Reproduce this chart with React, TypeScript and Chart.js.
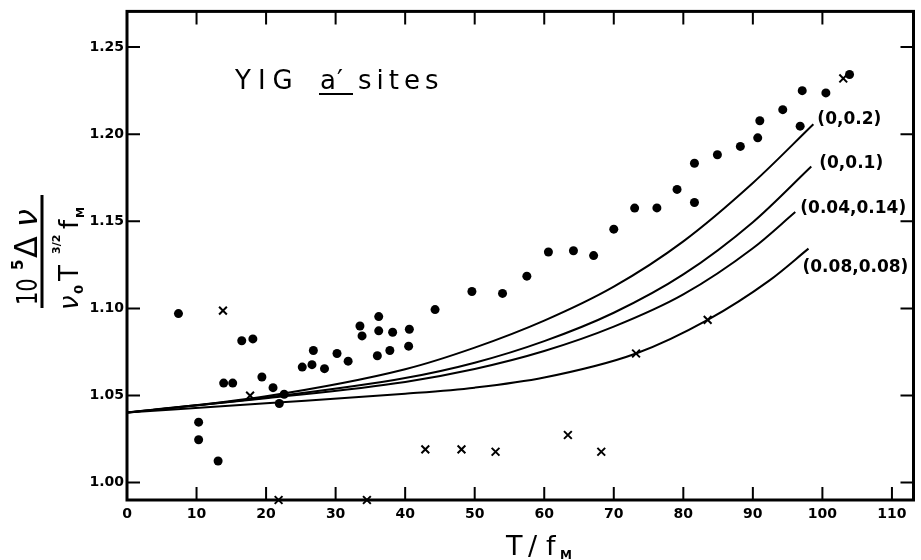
import React, { useEffect, useRef } from "react";
import { Chart, registerables } from "chart.js";

Chart.register(...registerables);

// ---- tick labels ----
const xTicks = [0, 10, 20, 30, 40, 50, 60, 70, 80, 90, 100, 110];
const yTicks = [1.0, 1.05, 1.1, 1.15, 1.2, 1.25];

// ---- measured points (filled circles) ----
const dotT = [7.4, 10.3, 10.3, 13.1, 13.9, 15.2, 16.5, 18.1, 19.4, 21.0, 21.9, 22.6, 25.2, 26.6, 26.8, 28.4, 30.2, 31.8, 33.5, 33.8, 36.0, 36.2, 36.2, 37.8, 38.2, 40.5, 40.6, 44.3, 49.6, 54.0, 57.5, 60.6, 64.2, 67.1, 70.0, 73.0, 76.2, 79.1, 81.6, 81.6, 84.9, 88.2, 90.7, 91.0, 94.3, 96.8, 97.1, 100.5, 103.9];
const dotV = [1.097, 1.0347, 1.0246, 1.0124, 1.0571, 1.0571, 1.0814, 1.0825, 1.0606, 1.0545, 1.0454, 1.0507, 1.0663, 1.0677, 1.0758, 1.0654, 1.0741, 1.0697, 1.0899, 1.0842, 1.0728, 1.0871, 1.0953, 1.0758, 1.0863, 1.0783, 1.088, 1.0993, 1.1097, 1.1086, 1.1185, 1.1324, 1.1331, 1.1303, 1.1455, 1.1576, 1.1577, 1.1683, 1.1608, 1.1833, 1.1882, 1.193, 1.1979, 1.2077, 1.2141, 1.2046, 1.225, 1.2237, 1.2343];

// ---- measured points (crosses) ----
const crossT = [13.8, 17.7, 21.8, 34.5, 42.9, 48.1, 53.0, 63.4, 68.2, 73.2, 83.5, 103.0];
const crossV = [1.0987, 1.0499, 0.99, 0.99, 1.0191, 1.0191, 1.0177, 1.0273, 1.0177, 1.0741, 1.0934, 1.232];

// ---- theoretical curves ----
const curveLabels = ["(0,0.2)", "(0,0.1)", "(0.04,0.14)", "(0.08,0.08)"];
const curveAT = [0, 20, 40, 50, 60, 70, 80, 90, 98.7];
const curveAV = [1.0402, 1.0496, 1.0651, 1.0775, 1.093, 1.1125, 1.1385, 1.172, 1.2057];
const curveBT = [0, 20, 40, 50, 60, 70, 80, 90, 98.4];
const curveBV = [1.0402, 1.0488, 1.06, 1.0688, 1.0812, 1.0975, 1.1195, 1.1495, 1.1815];
const curveCT = [0, 20, 40, 50, 60, 70, 80, 90, 96.1];
const curveCV = [1.0402, 1.0484, 1.0578, 1.0652, 1.0755, 1.0895, 1.108, 1.1345, 1.1553];
const curveDT = [0, 20, 40, 50, 60, 73.2, 83.5, 92.3, 98.0];
const curveDV = [1.0402, 1.0455, 1.051, 1.0545, 1.0603, 1.0741, 1.0934, 1.1158, 1.1343];

const curvesT = [curveAT, curveBT, curveCT, curveDT];
const curvesV = [curveAV, curveBV, curveCV, curveDV];

const X_MIN = 0;
const X_MAX = 113.1;
const Y_MIN = 0.99;
const Y_MAX = 1.2705;

const zip = (xs: number[], ys: number[]) => xs.map((x, i) => ({ x, y: ys[i] }));

const framePlugin = {
  id: "frame",
  beforeDatasetsDraw(chart: any) {
    const { ctx, chartArea: a, scales } = chart;
    const xs = scales.x;
    const ys = scales.y;
    ctx.save();
    ctx.strokeStyle = "#000";
    ctx.lineWidth = 3;
    ctx.strokeRect(a.left, a.top, a.right - a.left, a.bottom - a.top);
    ctx.lineWidth = 2;
    const tl = 13;
    ctx.beginPath();
    xTicks.forEach((v) => {
      if (v === 0) return;
      const px = xs.getPixelForValue(v);
      ctx.moveTo(px, a.bottom);
      ctx.lineTo(px, a.bottom - tl);
      if (v <= 100) {
        ctx.moveTo(px, a.top);
        ctx.lineTo(px, a.top + tl);
      }
    });
    yTicks.forEach((v) => {
      const py = ys.getPixelForValue(v);
      ctx.moveTo(a.left, py);
      ctx.lineTo(a.left + tl, py);
      ctx.moveTo(a.right, py);
      ctx.lineTo(a.right - tl, py);
    });
    ctx.stroke();
    ctx.restore();
  },
};

function put(ctx: any, text: string, x: number, y: number, font: string, sx = 1) {
  ctx.save();
  ctx.font = font;
  ctx.translate(x, y);
  ctx.scale(sx, 1);
  ctx.fillText(text, 0, 0);
  ctx.restore();
}

const labelOffsets = [
  [4, -5],
  [8, -3],
  [5, -3],
  [-6, 19],
];

const textPlugin = {
  id: "texts",
  afterDraw(chart: any) {
    const { ctx, scales } = chart;
    ctx.save();
    ctx.fillStyle = "#000";
    ctx.textBaseline = "alphabetic";
    ctx.textAlign = "left";

    // title inside plot
    ctx.save();
    ctx.font = "26px 'DejaVu Sans'";
    (ctx as any).letterSpacing = "7px";
    ctx.fillText("YIG", 235, 89);
    (ctx as any).letterSpacing = "1px";
    ctx.fillText("a′", 320, 89);
    (ctx as any).letterSpacing = "5px";
    ctx.fillText("sites", 358, 89);
    ctx.restore();
    ctx.fillRect(319, 93, 34, 2);

    // curve labels
    ctx.save();
    ctx.font = "bold 17px 'DejaVu Sans'";
    ctx.textBaseline = "middle";
    curvesT.forEach((ts, i) => {
      const vs = curvesV[i];
      const px = scales.x.getPixelForValue(ts[ts.length - 1]);
      const py = scales.y.getPixelForValue(vs[vs.length - 1]);
      ctx.fillText(curveLabels[i], px + labelOffsets[i][0], py + labelOffsets[i][1]);
    });
    ctx.restore();

    // x title  T / f_M
    put(ctx, "T", 506, 555, "27px 'DejaVu Sans'");
    put(ctx, "/", 528, 555, "27px 'DejaVu Sans'");
    put(ctx, "f", 546, 555, "27px 'DejaVu Sans'");
    put(ctx, "M", 560, 559, "bold 12px 'DejaVu Sans'");

    // y title (rotated fraction)
    ctx.save();
    ctx.translate(42, 254);
    ctx.rotate(-Math.PI / 2);
    ctx.fillRect(-54, -1.5, 113, 3);
    // numerator: 10^5 Δν
    put(ctx, "10", -51, -5, "28px 'DejaVu Sans'", 0.75);
    put(ctx, "5", -16, -19, "bold 15px 'DejaVu Sans'");
    put(ctx, "Δ", -4, -5, "32px 'DejaVu Sans'");
    put(ctx, "ν", 27, -5, "italic 32px 'DejaVu Sans'");
    // denominator: ν0 T^{3/2} f_M
    put(ctx, "ν", -56, 36, "italic 26px 'DejaVu Sans'");
    put(ctx, "0", -40, 41, "bold 13px 'DejaVu Sans'");
    put(ctx, "T", -27, 36, "26px 'DejaVu Sans'");
    put(ctx, "3/2", 0, 18, "bold 11px 'DejaVu Sans'");
    put(ctx, "f", 25, 36, "26px 'DejaVu Sans'");
    put(ctx, "M", 36, 42, "bold 11px 'DejaVu Sans'");
    ctx.restore();

    ctx.restore();
  },
};

export default function App() {
  const ref = useRef<HTMLCanvasElement | null>(null);

  useEffect(() => {
    if (!ref.current) return;
    const curveSets = curvesT.map((ts, i) => ({
      label: curveLabels[i],
      data: zip(ts, curvesV[i]),
      showLine: true,
      borderColor: "#000",
      borderWidth: 2,
      pointRadius: 0,
      fill: false,
      cubicInterpolationMode: "monotone" as const,
      order: 3,
    }));
    const chart = new Chart(ref.current, {
      type: "scatter",
      data: {
        datasets: [
          ...curveSets,
          {
            label: "measured (dots)",
            data: zip(dotT, dotV),
            pointStyle: "circle",
            pointRadius: 4.5,
            backgroundColor: "#000",
            borderColor: "#000",
            borderWidth: 0,
            order: 2,
          },
          {
            label: "measured (crosses)",
            data: zip(crossT, crossV),
            pointStyle: "crossRot",
            pointRadius: 5.5,
            borderColor: "#000",
            backgroundColor: "#000",
            borderWidth: 2,
            clip: false,
            order: 1,
          },
        ] as any,
      },
      options: {
        animation: false,
        responsive: false,
        maintainAspectRatio: false,
        layout: { padding: { top: 9, right: 2, left: 0, bottom: 0 } },
        plugins: { legend: { display: false }, tooltip: { enabled: false } },
        scales: {
          x: {
            type: "linear",
            min: X_MIN,
            max: X_MAX,
            afterBuildTicks: (s: any) => {
              s.ticks = xTicks.map((v) => ({ value: v }));
            },
            afterFit: (s: any) => {
              s.height = 60;
            },
            grid: { display: false, drawTicks: false },
            border: { display: false },
            ticks: {
              color: "#000",
              font: { family: "'DejaVu Sans'", size: 14, weight: "bold" },
              padding: 6,
              maxRotation: 0,
              autoSkip: false,
              callback: (v: any) => String(v),
            },
          },
          y: {
            type: "linear",
            min: Y_MIN,
            max: Y_MAX,
            afterBuildTicks: (s: any) => {
              s.ticks = yTicks.map((v) => ({ value: v }));
            },
            afterFit: (s: any) => {
              s.width = 127;
            },
            grid: { display: false, drawTicks: false },
            border: { display: false },
            ticks: {
              color: "#000",
              font: { family: "'DejaVu Sans'", size: 14, weight: "bold" },
              padding: 3,
              autoSkip: false,
              callback: (v: any) => Number(v).toFixed(2),
            },
          },
        },
      } as any,
      plugins: [framePlugin, textPlugin],
    });
    return () => chart.destroy();
  }, []);

  return (
    <div style={{ position: "absolute", left: 0, top: 0, width: 921, height: 560, background: "#fff" }}>
      <canvas ref={ref} width={921} height={560} style={{ display: "block", width: 921, height: 560 }} />
    </div>
  );
}
